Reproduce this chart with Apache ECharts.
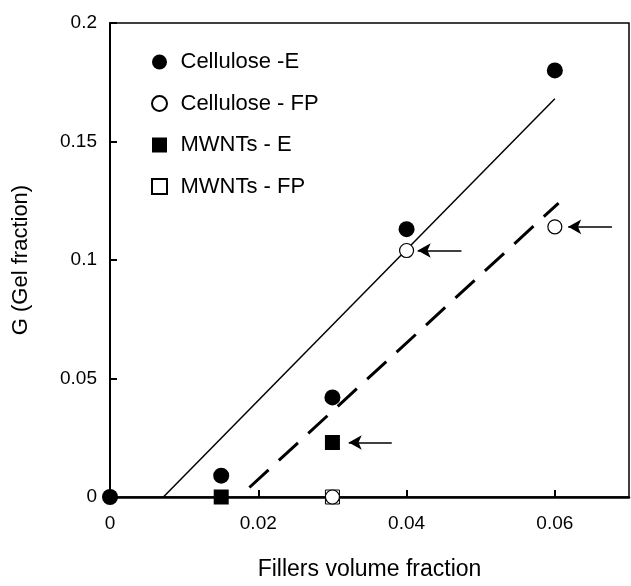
<!DOCTYPE html>
<html>
<head>
<meta charset="utf-8">
<script src="https://cdn.jsdelivr.net/npm/echarts@6/dist/echarts.min.js"></script>
<style>
html,body{margin:0;padding:0;background:#fff;}
#chart{width:631px;height:586px;}
</style>
</head>
<body>
<div id="chart"></div>
<script>
// ---- data ----
const seriesNames = ['Cellulose -E', 'Cellulose - FP', 'MWNTs - E', 'MWNTs - FP'];
const celluloseE = [[0, 0], [0.015, 0.009], [0.03, 0.042], [0.04, 0.113], [0.06, 0.18]];
const celluloseFP = [[0.03, 0], [0.04, 0.104], [0.06, 0.114]];
const mwntsE = [[0.015, 0], [0.03, 0.023]];
const mwntsFP = [[0.03, 0]];
const fitSolid = [[0.0072, 0], [0.06, 0.168]];
const fitDashed = [[0.0188, 0.004], [0.0605, 0.124]];
// arrows: [tail, head] in data coords
const arrows = [
  [[0.0474, 0.104], [0.0415, 0.104]],
  [[0.0677, 0.114], [0.0618, 0.114]],
  [[0.0380, 0.023], [0.0322, 0.023]]
];
const xTicks = [0, 0.02, 0.04, 0.06];
const yTicks = [0, 0.05, 0.1, 0.15, 0.2];

const FONT = 'Liberation Sans, Arial, sans-serif';
const squarePath = 'path://M0,0H10V10H0Z';

const chart = echarts.init(document.getElementById('chart'), null, {renderer: 'canvas'});
const option = {
  animation: false,
  backgroundColor: '#fff',
  grid: {left: 110, right: 2, top: 23, bottom: 81, show: true, borderColor: '#000', borderWidth: 1.5},
  legend: {
    orient: 'vertical', left: 146, top: 46,
    itemWidth: 32, itemHeight: 15, itemGap: 19.5,
    textStyle: {fontFamily: FONT, fontSize: 22, color: '#000'},
    data: [
      {name: seriesNames[0], icon: 'circle'},
      {name: seriesNames[1], icon: 'circle'},
      {name: seriesNames[2], icon: squarePath},
      {name: seriesNames[3], icon: squarePath}
    ],
    selectedMode: false
  },
  xAxis: {
    type: 'value', min: 0, max: 0.07, interval: 0.02,
    name: 'Fillers volume fraction', nameLocation: 'middle', nameGap: 61,
    nameTextStyle: {fontFamily: FONT, fontSize: 23, color: '#000'},
    axisLine: {show: true, onZero: false, lineStyle: {color: '#000', width: 2.5}},
    axisTick: {show: true, inside: true, length: 7, lineStyle: {color: '#000', width: 2}},
    axisLabel: {
      fontFamily: FONT, fontSize: 19, color: '#000', margin: 17, showMaxLabel: false,
      formatter: v => { const t = xTicks.find(k => Math.abs(k - v) < 1e-9); return t === undefined ? '' : String(t); }
    },
    splitLine: {show: false}
  },
  yAxis: {
    type: 'value', min: 0, max: 0.2, interval: 0.05,
    name: 'G (Gel fraction)', nameLocation: 'middle', nameGap: 78,
    nameTextStyle: {fontFamily: FONT, fontSize: 22, color: '#000'},
    axisLine: {show: true, onZero: false, lineStyle: {color: '#000', width: 2}},
    axisTick: {show: true, inside: true, length: 7, lineStyle: {color: '#000', width: 2}},
    axisLabel: {
      fontFamily: FONT, fontSize: 19, color: '#000', margin: 13,
      formatter: v => { const t = yTicks.find(k => Math.abs(k - v) < 1e-9); return t === undefined ? '' : String(t); }
    },
    splitLine: {show: false}
  },
  series: [
    {
      name: 'fitSolid', type: 'line', data: fitSolid, symbol: 'none', z: 1,
      lineStyle: {color: '#000', width: 1.5}, silent: true
    },
    {
      name: 'fitDashed', type: 'line', data: fitDashed, symbol: 'none', z: 1,
      lineStyle: {color: '#000', width: 3, type: [26, 14]}, silent: true
    },
    {
      name: 'arrows', type: 'line', data: [], z: 2, silent: true,
      markLine: {
        silent: true, symbol: ['none', 'arrow'], symbolSize: [11, 13],
        label: {show: false},
        lineStyle: {color: '#000', width: 1.5, type: 'solid'},
        data: arrows.map(a => [{coord: a[0]}, {coord: a[1]}])
      }
    },
    {
      name: seriesNames[2], type: 'scatter', data: mwntsE, symbol: squarePath, symbolSize: 15, z: 3,
      itemStyle: {color: '#000', borderColor: '#000', borderWidth: 0, opacity: 1}
    },
    {
      name: seriesNames[3], type: 'scatter', data: mwntsFP, symbol: squarePath, symbolSize: 14, z: 3,
      itemStyle: {color: '#fff', borderColor: '#000', borderWidth: 1, opacity: 1}
    },
    {
      name: seriesNames[0], type: 'scatter', data: celluloseE, symbol: 'circle', symbolSize: 16, z: 4,
      itemStyle: {color: '#000', borderColor: '#000', borderWidth: 0, opacity: 1}
    },
    {
      name: seriesNames[1], type: 'scatter', data: celluloseFP, symbol: 'circle', symbolSize: 14, z: 4,
      itemStyle: {color: '#fff', borderColor: '#000', borderWidth: 1.2, opacity: 1}
    }
  ]
};
chart.setOption(option);
</script>
</body>
</html>
